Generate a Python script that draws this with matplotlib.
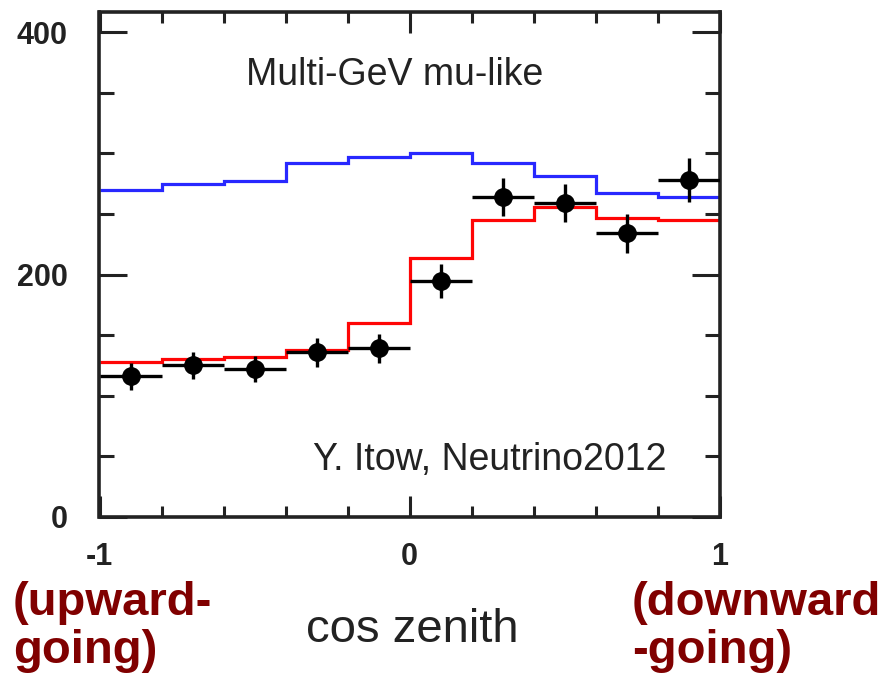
import numpy as np
import matplotlib.pyplot as plt
from matplotlib.ticker import MultipleLocator

plt.rcParams['font.family'] = ['Liberation Sans', 'DejaVu Sans']

# cos(zenith) bins
bin_edges = [-1.0, -0.8, -0.6, -0.4, -0.2, 0.0, 0.2, 0.4, 0.6, 0.8, 1.0]
bin_centers = [-0.9, -0.7, -0.5, -0.3, -0.1, 0.1, 0.3, 0.5, 0.7, 0.9]

# MC without oscillation (blue) and best fit with oscillation (red)
no_osc = [270, 275, 277, 292, 297, 300, 292, 281, 267, 264]
best_fit = [128, 130, 132, 138, 160, 214, 245, 256, 247, 245]

# data points
data = [116, 125, 122, 136, 139, 195, 264, 259, 234, 278]
data_err = [11, 11, 11, 12, 12, 14, 16, 16, 16, 18]

xticks = [-1, 0, 1]
xtick_labels = ['-1', '0', '1']
yticks = [0, 200, 400]
ytick_labels = ['0', '200', '400']

W, H = 887, 683
fig = plt.figure(figsize=(W / 100, H / 100), dpi=100)
ax = fig.add_axes([99.5 / W, 1 - 517 / H, 620.5 / W, 505 / H])

ax.stairs(no_osc, bin_edges, color='#2828ff', lw=2.3, baseline=None)
ax.stairs(best_fit, bin_edges, color='#ff0505', lw=2.3, baseline=None)
ax.errorbar(bin_centers, data, yerr=data_err, xerr=0.1, fmt='o', color='black',
            ms=12.5, elinewidth=2.4, capsize=0, zorder=3)

ax.set_xlim(-1, 1)
ax.set_ylim(0, 416.5)

ax.set_xticks(xticks)
ax.set_xticklabels(xtick_labels, fontweight='bold')
ax.set_yticks(yticks)
ax.set_yticklabels(ytick_labels, fontweight='bold')
ax.xaxis.set_minor_locator(MultipleLocator(0.2))
ax.yaxis.set_minor_locator(MultipleLocator(50))
ax.tick_params(which='both', direction='in', top=True, right=True, width=2.2,
               color='#222222')
ax.tick_params(which='major', axis='y', length=20)
ax.tick_params(which='minor', axis='y', length=11)
ax.tick_params(which='major', axis='x', length=15)
ax.tick_params(which='minor', axis='x', length=8)
ax.tick_params(axis='y', pad=23, labelsize=22, labelcolor='#222222')
ax.tick_params(axis='x', pad=18, labelsize=22, labelcolor='#222222')
for s in ax.spines.values():
    s.set_linewidth(2.6)
    s.set_color('#222222')

ax.text(-0.05, 356, 'Multi-GeV mu-like', ha='center', va='baseline',
        fontsize=27, color='#222222')
ax.text(0.259, 39, 'Y. Itow, Neutrino2012', ha='center', va='baseline',
        fontsize=27, color='#222222')

# axis title and direction notes under the plot
dark_red = '#800000'
fig.text(412 / W, 1 - 642 / H, 'cos zenith', ha='center', va='baseline',
         fontsize=34, color='#222222')
fig.text(13 / W, 1 - 615 / H, '(upward-', ha='left', va='baseline',
         fontsize=34, color=dark_red, fontweight='bold')
fig.text(13 / W, 1 - 663 / H, 'going)', ha='left', va='baseline',
         fontsize=34, color=dark_red, fontweight='bold')
fig.text(632 / W, 1 - 615 / H, '(downward', ha='left', va='baseline',
         fontsize=34, color=dark_red, fontweight='bold')
fig.text(632 / W, 1 - 663 / H, '-going)', ha='left', va='baseline',
         fontsize=34, color=dark_red, fontweight='bold')

fig.savefig('out.png', dpi=100)
